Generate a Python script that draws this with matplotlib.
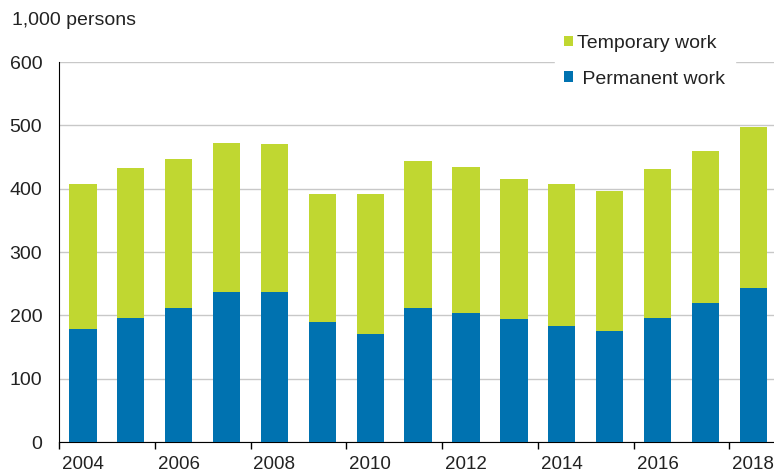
import matplotlib
matplotlib.use("Agg")
import matplotlib.pyplot as plt
import numpy as np

plt.rcParams['font.family'] = ['Liberation Sans', 'DejaVu Sans']

years = [str(y) for y in range(2004, 2019)]
permanent = [178, 196, 211, 237, 237, 189, 171, 211, 203, 194, 183, 176, 196, 219, 244]
temporary = [229, 236, 236, 235, 233, 202, 220, 233, 232, 222, 224, 220, 235, 240, 254]

blue = '#0072B0'
green = '#C0D731'
txt = '#222222'

fig = plt.figure(figsize=(7.74, 4.74), dpi=100)
ax = fig.add_axes([0.0762, 0.0675, 0.928, 0.8015])

x = np.arange(len(years))
ax.bar(x, permanent, width=0.57, color=blue, label=' Permanent work', zorder=3)
ax.bar(x, temporary, width=0.57, bottom=permanent, color=green, label='Temporary work', zorder=3)

ax.set_ylim(0, 600)
ax.set_yticks(range(0, 601, 100))
ax.set_xlim(-0.5, 14.5)
ax.yaxis.grid(True, color='#c8c8c8', linewidth=1, zorder=0)
ax.set_axisbelow(True)

# tick marks between every second pair of bars, labels under even years
ax.set_xticks(np.arange(-0.5, 14.6, 2))
ax.set_xticklabels([])
ax.set_xticks(x[::2], minor=True)
ax.set_xticklabels(years[::2], minor=True)
ax.tick_params(axis='x', which='minor', length=0, labelsize=13.5, pad=10, labelcolor=txt)
ax.tick_params(axis='x', which='major', length=5, width=1, color='black', direction='out')
ax.tick_params(axis='y', length=0, labelsize=14, pad=12, colors=txt)

for s in ['top', 'right']:
    ax.spines[s].set_visible(False)
ax.spines['left'].set_color('black')
ax.spines['bottom'].set_color('black')

fig.text(0.015, 0.957, '1,000 persons', fontsize=14, color=txt, va='center')

h, l = ax.get_legend_handles_labels()
leg = ax.legend(h[::-1], l[::-1], loc='upper left', bbox_to_anchor=(0.704, 0.967),
                bbox_transform=fig.transFigure,
                frameon=True, fontsize=14, handlelength=0.46, handleheight=0.46,
                handletextpad=0.2, labelspacing=0.95, borderpad=0.5, labelcolor=txt)
leg.get_frame().set_edgecolor('white')
leg.get_frame().set_facecolor('white')
leg.get_frame().set_alpha(1)
leg.get_frame().set_boxstyle('square', pad=0)
leg.set_zorder(5)

fig.savefig('out.png', dpi=100)
